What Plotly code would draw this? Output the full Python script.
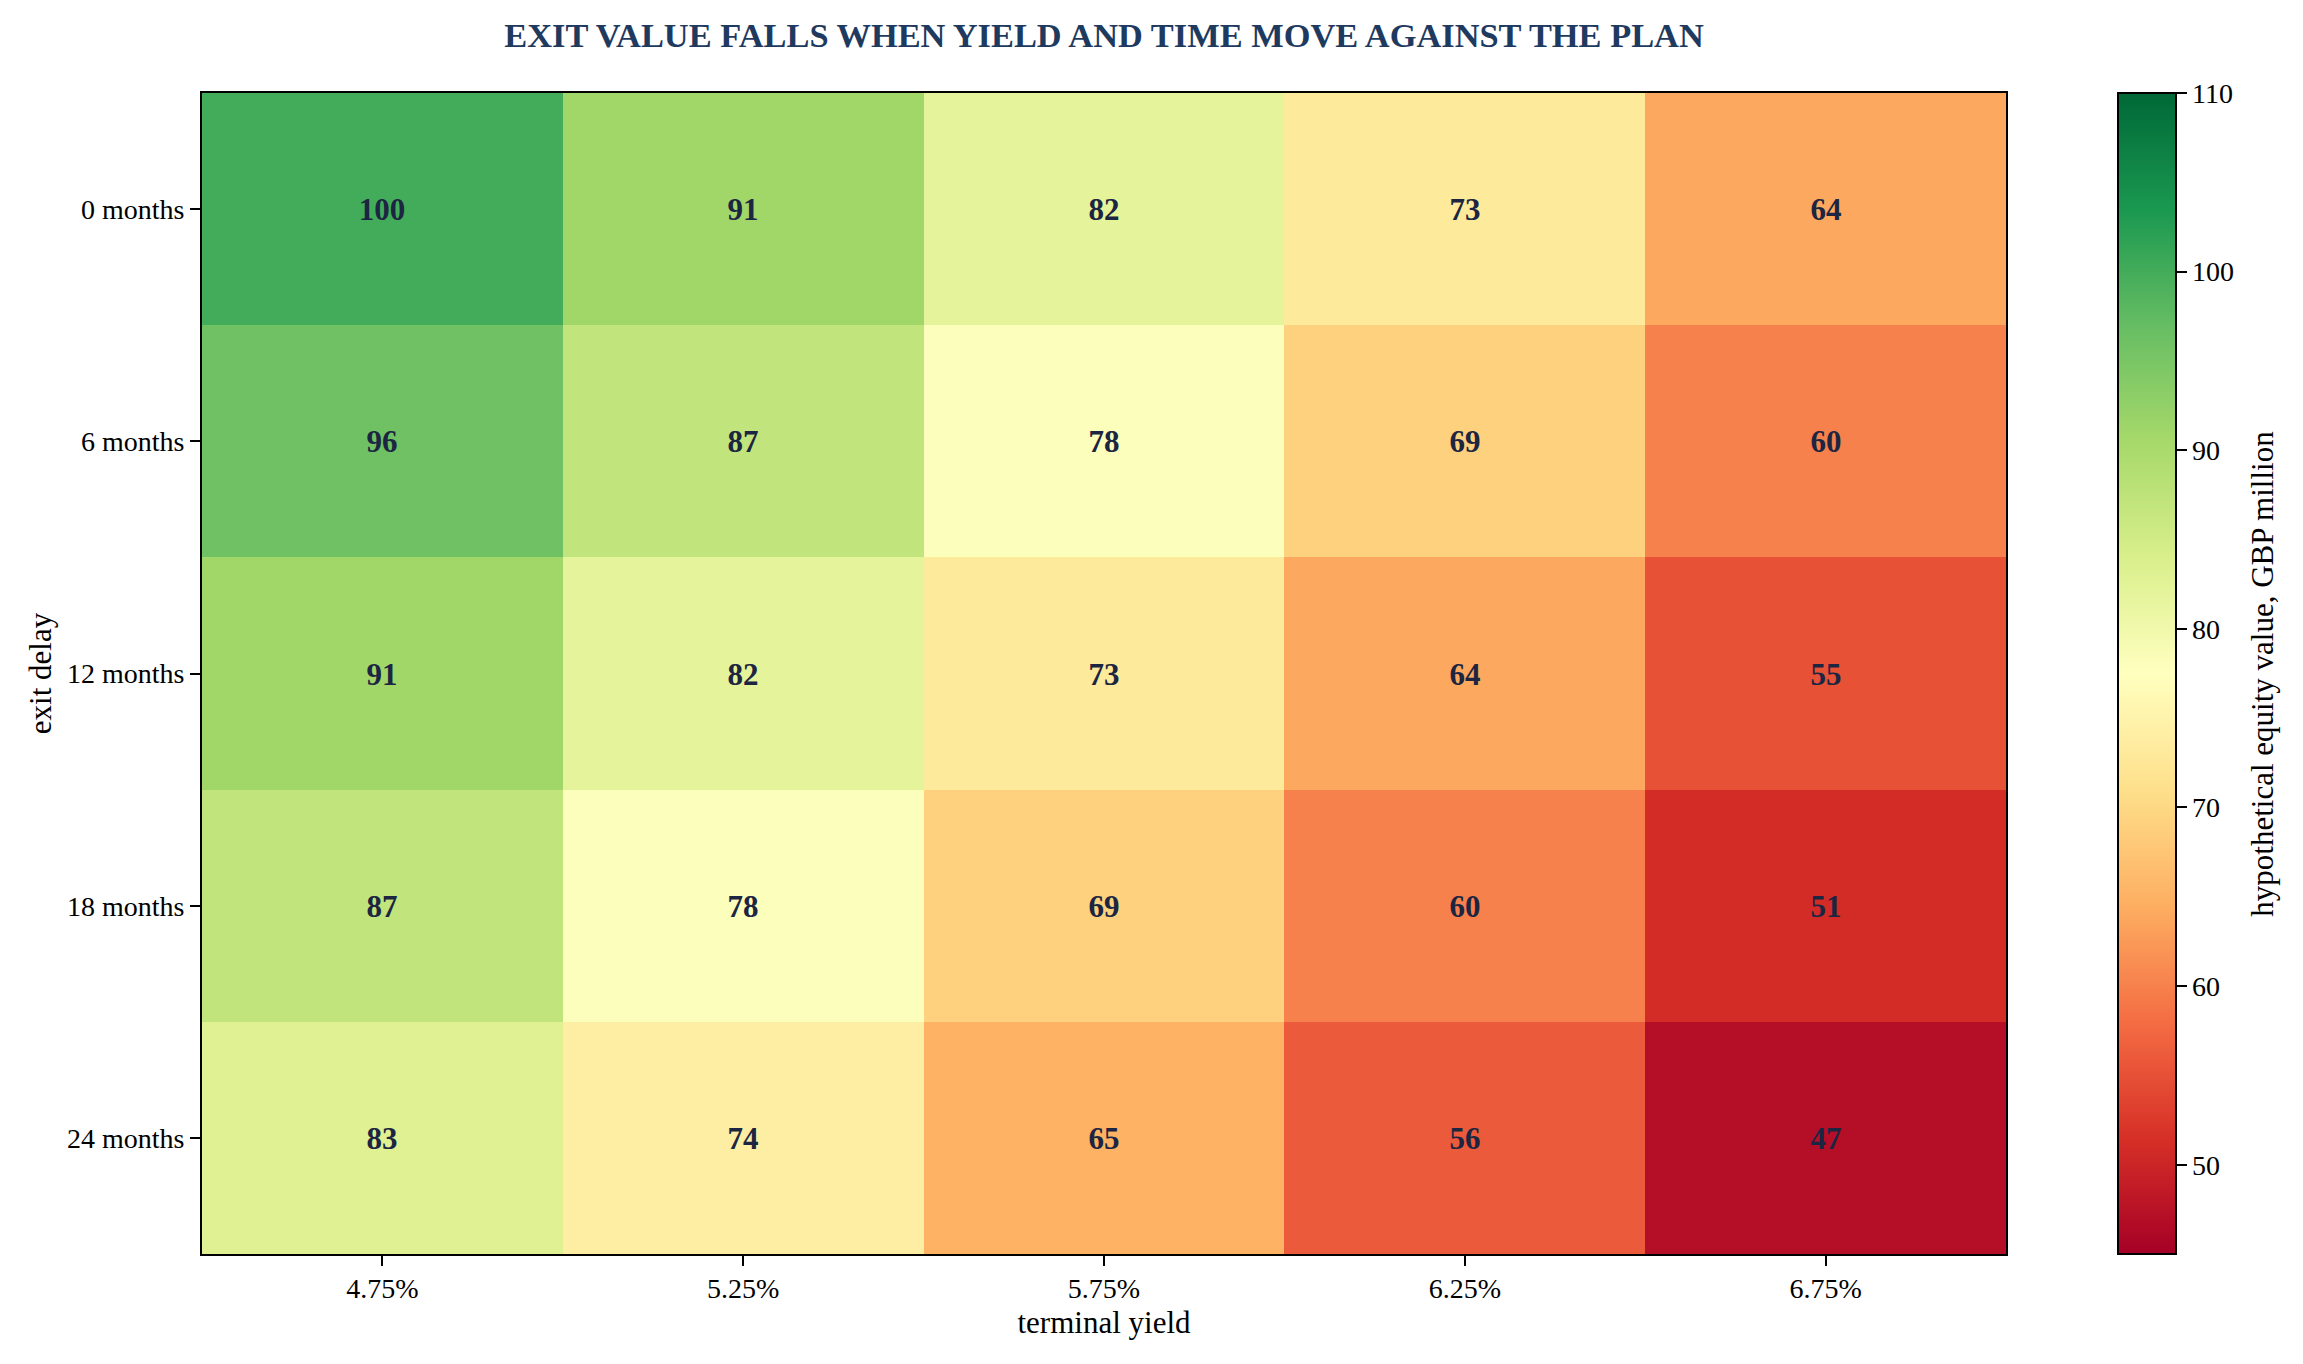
import plotly.graph_objects as go

# exit value grid, GBP million
yields = ["4.75%", "5.25%", "5.75%", "6.25%", "6.75%"]
delays = ["0 months", "6 months", "12 months", "18 months", "24 months"]
values = [
    [100, 91, 82, 73, 64],
    [96, 87, 78, 69, 60],
    [91, 82, 73, 64, 55],
    [87, 78, 69, 60, 51],
    [83, 74, 65, 56, 47],
]
cbar_ticks = [50, 60, 70, 80, 90, 100, 110]

serif = "Liberation Serif, Times New Roman, serif"

# page body has an 8px margin, so the figure is shrunk a little to fit the window
W, H = 2287, 1348

fig = go.Figure()
fig.add_trace(go.Heatmap(
    z=values,
    x=yields,
    y=delays,
    colorscale="RdYlGn",
    zmin=45,
    zmax=110,
    texttemplate="%{z}",
    textfont=dict(family=serif, size=31, color="#1c2541", weight="bold"),
    colorbar=dict(
        x=1.0621, xanchor="left", xpad=0,
        y=0.5, yanchor="middle", len=1, ypad=0,
        thickness=58,
        outlinecolor="black", outlinewidth=2,
        tickvals=cbar_ticks,
        tickprefix="\u00a0\u00a0",
        ticks="outside", ticklen=10, tickwidth=2, tickcolor="black",
        tickfont=dict(family=serif, size=28, color="black"),
    ),
    hovertemplate="%{y}, %{x}: %{z}<extra></extra>",
))

# colorbar label placed by hand so it sits where the reference has it
fig.add_annotation(
    text="hypothetical equity value, GBP million",
    textangle=-90,
    x=1.142, xref="paper", xanchor="center",
    y=0.5, yref="paper", yanchor="middle",
    showarrow=False,
    font=dict(family=serif, size=31, color="black"),
)

fig.update_layout(
    width=W,
    height=H,
    margin=dict(l=194, r=289, t=85, b=102),
    paper_bgcolor="white",
    plot_bgcolor="white",
    font=dict(family=serif, color="black"),
    title=dict(
        text="<b>EXIT VALUE FALLS WHEN YIELD AND TIME MOVE AGAINST THE PLAN</b>",
        x=0.5, xref="paper", xanchor="center",
        y=1 - 27 / H, yref="container", yanchor="middle",
        font=dict(family=serif, size=34.4, color="#1f3a5f"),
    ),
)

fig.update_xaxes(
    title=dict(text="terminal yield", standoff=9,
               font=dict(family=serif, size=31, color="black")),
    tickfont=dict(family=serif, size=28, color="black"),
    ticks="outside", ticklen=10, tickwidth=2, tickcolor="black",
    ticklabelstandoff=-2,
    showline=True, linecolor="black", linewidth=2, mirror=True,
    showgrid=False, zeroline=False,
)
fig.update_yaxes(
    title=dict(text="exit delay", standoff=6,
               font=dict(family=serif, size=31, color="black")),
    tickfont=dict(family=serif, size=28, color="black"),
    ticks="outside", ticklen=10, tickwidth=2, tickcolor="black",
    ticklabelstandoff=0,
    autorange="reversed",
    showline=True, linecolor="black", linewidth=2, mirror=True,
    showgrid=False, zeroline=False,
)

fig.write_html("out.html")
